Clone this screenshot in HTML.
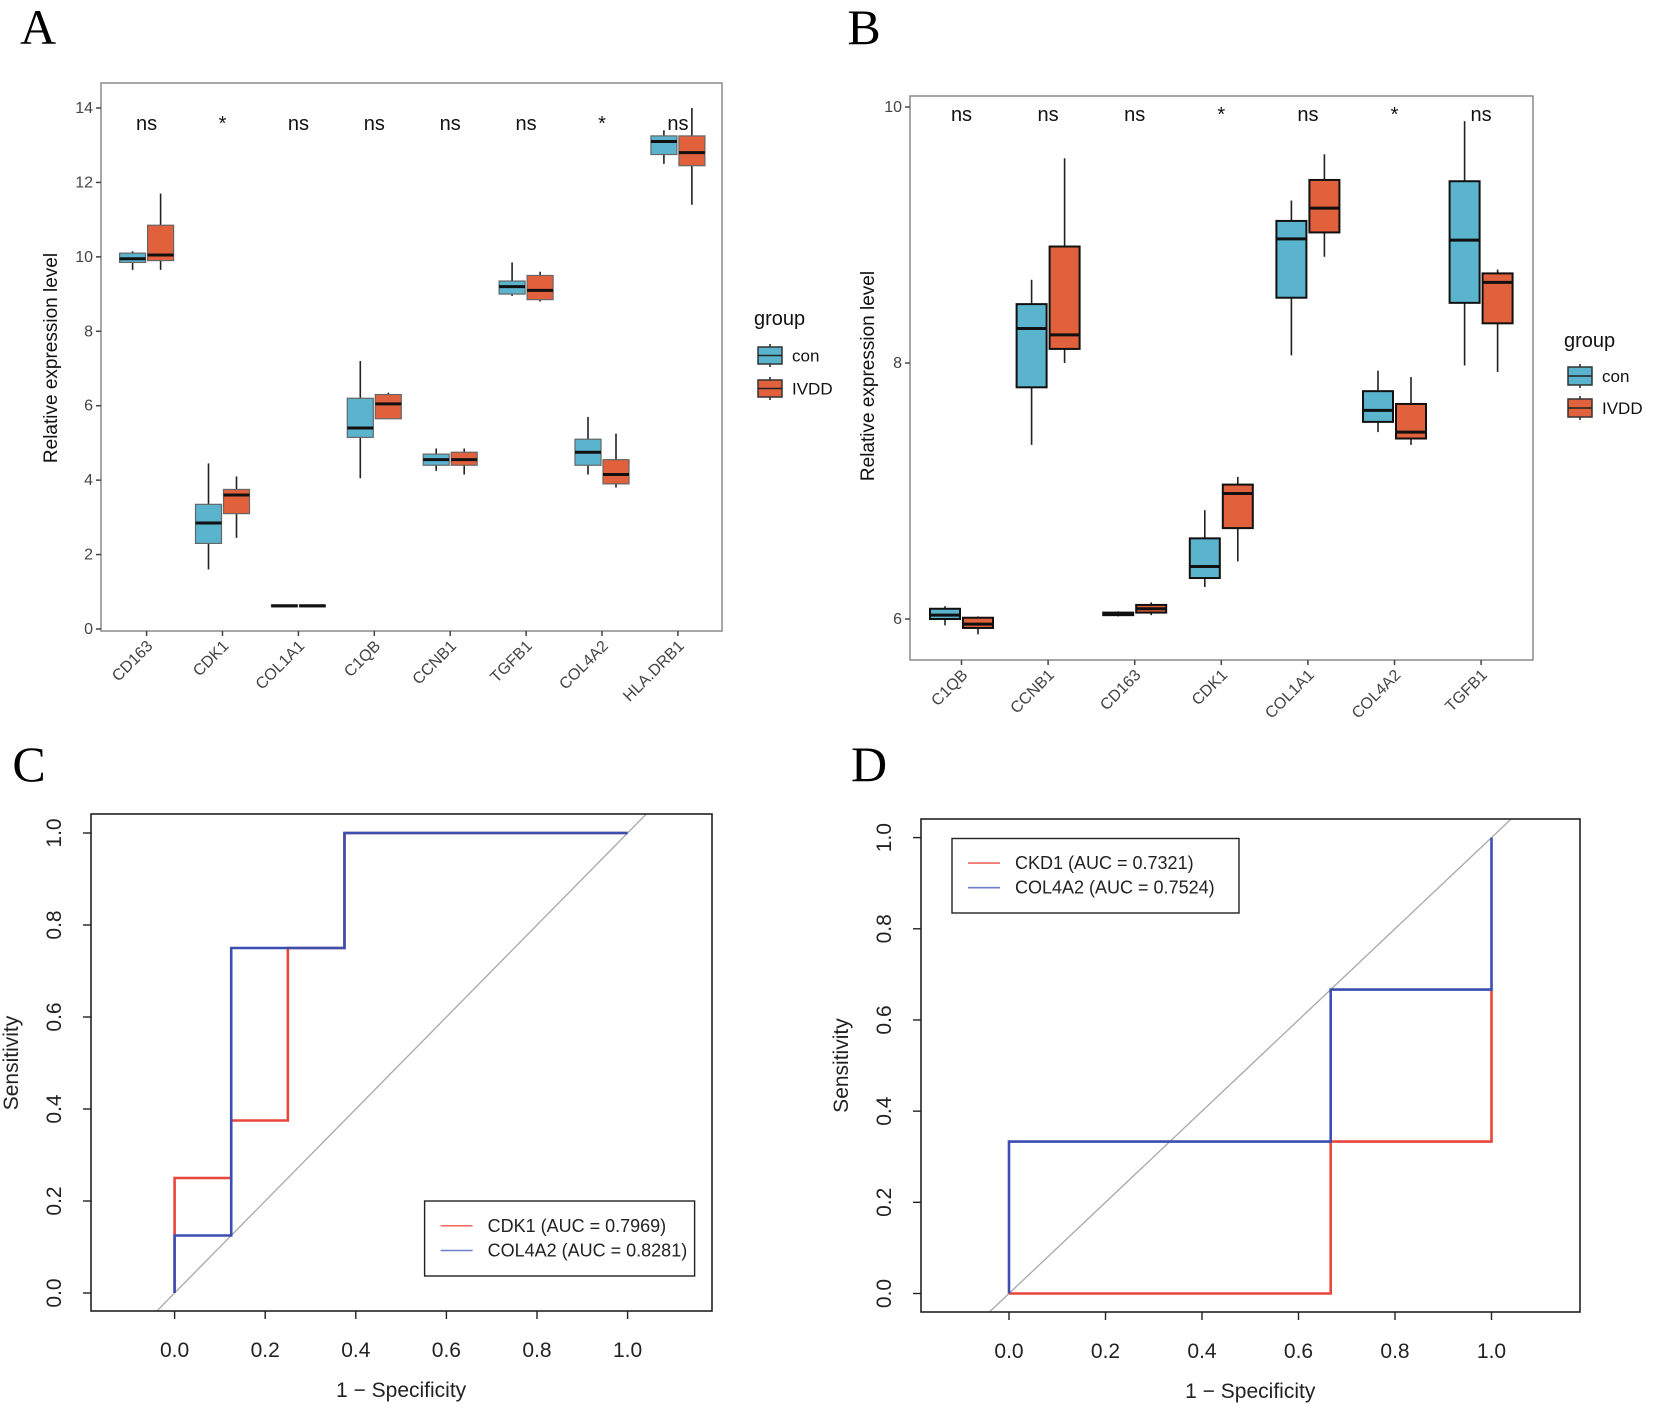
<!DOCTYPE html>
<html><head><meta charset="utf-8"><style>
html,body{margin:0;padding:0;background:#fff;}
svg{display:block;font-family:"Liberation Sans",sans-serif;}
</style></head><body>
<svg id="fig" width="1654" height="1408" viewBox="0 0 1654 1408">
<rect width="1654" height="1408" fill="#fff"/>
</svg>
<script>
// ---- Panel A data ----
const catsA = ["CD163","CDK1","COL1A1","C1QB","CCNB1","TGFB1","COL4A2","HLA.DRB1"];
const sigA = ["ns","*","ns","ns","ns","ns","*","ns"];
const conA = [[9.65,9.85,9.95,10.1,10.15],[1.6,2.3,2.85,3.35,4.45],[0.6,0.6,0.62,0.65,0.66],[4.05,5.15,5.4,6.2,7.2],[4.25,4.4,4.55,4.7,4.85],[8.95,9.0,9.2,9.35,9.85],[4.15,4.4,4.75,5.1,5.7],[12.5,12.75,13.1,13.25,13.4]];
const ivddA = [[9.65,9.9,10.05,10.85,11.7],[2.45,3.1,3.6,3.75,4.1],[0.6,0.6,0.62,0.65,0.66],[5.65,5.65,6.05,6.3,6.35],[4.15,4.4,4.55,4.75,4.85],[8.8,8.85,9.1,9.5,9.6],[3.8,3.9,4.15,4.55,5.25],[11.4,12.45,12.8,13.25,14.0]];
const ticksA = [0,2,4,6,8,10,12,14];
// ---- Panel B data ----
const catsB = ["C1QB","CCNB1","CD163","CDK1","COL1A1","COL4A2","TGFB1"];
const sigB = ["ns","ns","ns","*","ns","*","ns"];
const conB = [[5.95,6.0,6.03,6.08,6.1],[7.36,7.81,8.27,8.46,8.65],[6.02,6.03,6.04,6.05,6.06],[6.25,6.32,6.41,6.63,6.85],[8.06,8.51,8.97,9.11,9.27],[7.46,7.54,7.63,7.78,7.94],[7.98,8.47,8.96,9.42,9.89]];
const ivddB = [[5.88,5.93,5.96,6.01,6.02],[8.0,8.11,8.22,8.91,9.6],[6.03,6.05,6.08,6.11,6.13],[6.45,6.71,6.98,7.05,7.11],[8.83,9.02,9.21,9.43,9.63],[7.36,7.41,7.46,7.68,7.89],[7.93,8.31,8.63,8.70,8.73]];
const ticksB = [6,8,10];
// ---- Panel C data ----
const cdk1C_x = [0,0,0.125,0.125,0.25,0.25,0.375,0.375,1];
const cdk1C_y = [0,0.25,0.25,0.375,0.375,0.75,0.75,1,1];
const col4C_x = [0,0,0.125,0.125,0.375,0.375,1];
const col4C_y = [0,0.125,0.125,0.75,0.75,1,1];
const legendC = ["CDK1 (AUC = 0.7969)","COL4A2 (AUC = 0.8281)"];
// ---- Panel D data ----
const ckd1D_x = [0,0.6667,0.6667,1,1];
const ckd1D_y = [0,0,0.3333,0.3333,0.6667];
const col4D_x = [0,0,0.6667,0.6667,1,1];
const col4D_y = [0,0.3333,0.3333,0.6667,0.6667,1];
const legendD = ["CKD1 (AUC = 0.7321)","COL4A2 (AUC = 0.7524)"];
const rocTicks = [0,0.2,0.4,0.6,0.8,1.0];

const NS="http://www.w3.org/2000/svg";
const svg=document.getElementById('fig');
function mk(tag,attrs,parent,text){const e=document.createElementNS(NS,tag);for(const k in attrs)e.setAttribute(k,attrs[k]);if(text!==undefined)e.textContent=text;(parent||svg).appendChild(e);return e;}
const CON="#5ab4cd", IVD="#e2613d";

function letter(t,x,y){
  const e=mk('text',{x:x,y:y,'font-family':'Liberation Serif, serif','font-size':50,'text-anchor':'middle'},svg,t);
  
  
}

function boxPanel(o){
  const g=mk('g',{});
  
  
  const y=v=>o.y0+(v-o.vmin)*(o.y1-o.y0)/(o.vmax-o.vmin);
  const x=i=>o.cx0+i*o.step;
  const frame=mk('rect',{x:o.L,y:o.T,width:o.R-o.L,height:o.B-o.T,fill:'none',stroke:'#8a8a8a','stroke-width':1.5},g);
  
  
  o.ticks.forEach(t=>{
    mk('line',{x1:o.L-5,x2:o.L,y1:y(t),y2:y(t),stroke:'#444','stroke-width':1.5},g);
    const tl=mk('text',{x:o.L-8,y:y(t)+5,'text-anchor':'end','font-size':16,fill:'#444'},g,String(t));
    
    
  });
  o.cats.forEach((c,i)=>{
    const cx=x(i);
    mk('line',{x1:cx,x2:cx,y1:o.B,y2:o.B+5,stroke:'#444','stroke-width':1.5},g);
    const tl=mk('text',{x:cx+7,y:o.B+16,'text-anchor':'end','font-size':16,fill:'#444',transform:`rotate(-45 ${cx+7} ${o.B+16})`},g,c);
    
    
    const st=mk('text',{x:cx,y:o.sigY,'text-anchor':'middle','font-size':o.sigSize,fill:'#111'},g,o.sig[i]);
    
    
    [[o.con[i],-1,CON],[o.ivd[i],1,IVD]].forEach(([d,s,col])=>{
      const bx=cx+s*o.off, w=o.bw;
      const bg=mk('g',{},g);
      
      
      mk('line',{x1:bx,x2:bx,y1:y(d[0]),y2:y(d[4]),stroke:'#222','stroke-width':1.6},bg);
      mk('rect',{x:bx-w/2,y:y(d[3]),width:w,height:Math.max(2,y(d[1])-y(d[3])),fill:col,stroke:o.bstroke,'stroke-width':o.bsw},bg);
      mk('line',{x1:bx-w/2,x2:bx+w/2,y1:y(d[2]),y2:y(d[2]),stroke:'#111','stroke-width':3},bg);
    });
  });
  const yt=mk('text',{x:o.ytx,y:o.yty,'text-anchor':'middle','font-size':19,fill:'#111',transform:`rotate(-90 ${o.ytx} ${o.yty})`},g,'Relative expression level');
  
  
  const lg=mk('g',{},g);
  
  
  mk('text',{x:o.lx,y:o.lgy,'font-size':20,fill:'#111'},lg,'group');
  [['con',CON,o.lk1],['IVDD',IVD,o.lk2]].forEach(([t,col,ky])=>{
    const e=mk('g',{},lg);
    
    
    mk('line',{x1:o.lx+o.kw/2+4,x2:o.lx+o.kw/2+4,y1:ky-3,y2:ky+o.kh+3,stroke:'#222','stroke-width':1.5},e);
    mk('rect',{x:o.lx+4,y:ky,width:o.kw,height:o.kh,fill:col,stroke:'#333','stroke-width':1.5},e);
    mk('line',{x1:o.lx+4,x2:o.lx+4+o.kw,y1:ky+o.kh/2,y2:ky+o.kh/2,stroke:'#222','stroke-width':1.5},e);
    mk('text',{x:o.lx+o.kw+14,y:ky+o.kh/2+6,'font-size':17,fill:'#111'},e,t);
  });
}

function rocPanel(o){
  const g=mk('g',{});
  
  
  const X=v=>o.x0+v*(o.x1-o.x0), Y=v=>o.y0+v*(o.y1-o.y0);
  const cid='clip-'+o.name;
  const cp=mk('clipPath',{id:cid},g); mk('rect',{x:o.L,y:o.T,width:o.R-o.L,height:o.B-o.T},cp);
  const diag=mk('line',{x1:X(-0.2),y1:Y(-0.2),x2:X(1.2),y2:Y(1.2),stroke:'#a8a8a8','stroke-width':1.3,'clip-path':`url(#${cid})`},g);
  
  
  const frame=mk('rect',{x:o.L,y:o.T,width:o.R-o.L,height:o.B-o.T,fill:'none',stroke:'#222','stroke-width':1.6},g);
  
  
  rocTicks.forEach(t=>{
    mk('line',{x1:X(t),x2:X(t),y1:o.B,y2:o.B+8,stroke:'#222','stroke-width':1.4},g);
    const xl=mk('text',{x:X(t),y:o.B+46,'text-anchor':'middle','font-size':21,fill:'#222'},g,t.toFixed(1));
    
    
    mk('line',{x1:o.L-8,x2:o.L,y1:Y(t),y2:Y(t),stroke:'#222','stroke-width':1.4},g);
    const lx=o.L-30, ly=Y(t);
    const yl=mk('text',{x:lx,y:ly,'text-anchor':'middle','font-size':21,fill:'#222',transform:`rotate(-90 ${lx} ${ly})`},g,t.toFixed(1));
    
    
  });
  const xt=mk('text',{x:(X(0)+X(1))/2,y:o.B+86,'text-anchor':'middle','font-size':21,fill:'#222'},g,'1 − Specificity');
  
  
  const ytx=o.L-73, yty=(Y(0)+Y(1))/2;
  const yt=mk('text',{x:ytx,y:yty,'text-anchor':'middle','font-size':21,fill:'#222',transform:`rotate(-90 ${ytx} ${yty})`},g,'Sensitivity');
  
  
  o.series.forEach(([xs,ys,col,nm])=>{
    const p=mk('polyline',{points:xs.map((v,i)=>X(v)+','+Y(ys[i])).join(' '),fill:'none',stroke:col,'stroke-width':2.6},g);
    
    
  });
  const lg=mk('g',{},g);
  
  
  mk('rect',{x:o.lg[0],y:o.lg[1],width:o.lg[2],height:o.lg[3],fill:'#fff',stroke:'#222','stroke-width':1.4},lg);
  o.legend.forEach((t,i)=>{
    const ey=o.lg[1]+o.lg[3]*(0.33+0.33*i);
    const e=mk('g',{},lg);
    
    
    mk('line',{x1:o.lg[0]+16,x2:o.lg[0]+48,y1:ey,y2:ey,stroke:i?'#6f7fcc':'#ef6a5e','stroke-width':1.6},e);
    mk('text',{x:o.lg[0]+63,y:ey+6,'font-size':18,fill:'#222'},e,t);
  });
}

letter('A',38,44); letter('B',864,44); letter('C',29,781); letter('D',869,781);

boxPanel({name:'panel-a-boxplot',cats:catsA,sig:sigA,con:conA,ivd:ivddA,ticks:ticksA,
  L:101,R:722,T:83,B:631,vmin:0,vmax:14,y0:629,y1:108,cx0:146.6,step:75.9,off:14,bw:26,
  sigY:130,sigSize:20,bstroke:'#666',bsw:1.2,ytx:57,yty:358,
  lx:754,lgy:325,lk1:347,lk2:380,kw:24,kh:17});
boxPanel({name:'panel-b-boxplot',cats:catsB,sig:sigB,con:conB,ivd:ivddB,ticks:ticksB,
  L:910,R:1533,T:96,B:660,vmin:6,vmax:10,y0:619,y1:107,cx0:961.5,step:86.6,off:16.5,bw:30,
  sigY:121,sigSize:20,bstroke:'#111',bsw:2,ytx:874,yty:376,
  lx:1564,lgy:347,lk1:367,lk2:399,kw:24,kh:18});

rocPanel({name:'panel-c-roc',L:91,R:712,T:814,B:1311,x0:174.6,x1:627.6,y0:1293,y1:833,
  series:[[cdk1C_x,cdk1C_y,'#e8473c','roc-line-cdk1'],[col4C_x,col4C_y,'#3a4fb0','roc-line-col4a2']],
  legend:legendC,lg:[424.6,1201,270,75]});
rocPanel({name:'panel-d-roc',L:921,R:1580,T:819,B:1312,x0:1009,x1:1491.5,y0:1293.5,y1:837.6,
  series:[[ckd1D_x,ckd1D_y,'#e8473c','roc-line-ckd1'],[col4D_x,col4D_y,'#3a4fb0','roc-line-col4a2']],
  legend:legendD,lg:[952,838.5,287,74.5]});
</script>
</body></html>
